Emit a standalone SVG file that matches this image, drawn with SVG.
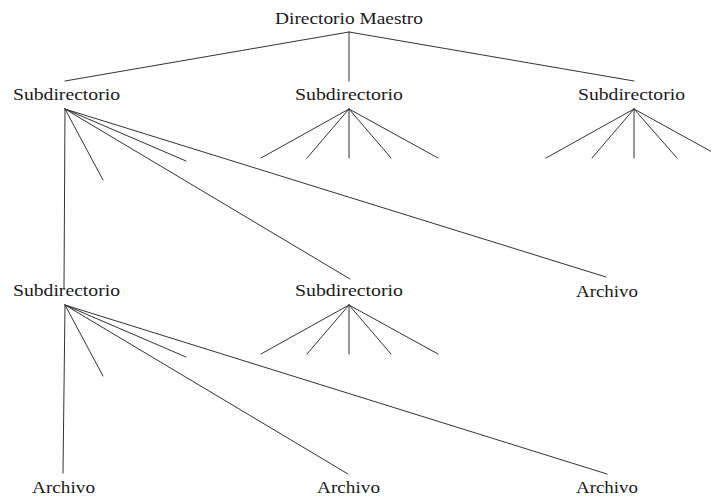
<svg xmlns="http://www.w3.org/2000/svg" width="711" height="498" viewBox="0 0 711 498">
  <style>
    .lbl { font-family: "Liberation Serif", "Times New Roman", serif; font-size: 17px; fill: #1a1a1a; }
    .edge { stroke: #333333; stroke-width: 1; fill: none; stroke-linecap: round; }
  </style>
  <rect width="711" height="498" fill="#ffffff"/>

  <g id="connectors">
    <!-- root to first-level subdirectories -->
    <path class="edge" d="M349 32 L65 81 M349 32 L349 81 M349 32 L634 81"/>
    <!-- left first-level subdirectory -->
    <path class="edge" d="M65 109 L64 288 M65 109 L103 180 M65 109 L186 161 M65 109 L350 279 M65 109 L606 277"/>
    <!-- middle first-level subdirectory fan -->
    <path class="edge" d="M349 109 L261 158 M349 109 L307 158 M349 109 L349 158 M349 109 L391 158 M349 109 L438 158"/>
    <!-- right first-level subdirectory fan -->
    <path class="edge" d="M634 109 L546 158 M634 109 L592 158 M634 109 L634 158 M634 109 L677 158 M634 109 L723 158"/>
    <!-- left second-level subdirectory -->
    <path class="edge" d="M65 305 L63 473 M65 305 L103 376 M65 305 L186 357 M65 305 L348 474 M65 305 L607 474"/>
    <!-- middle second-level subdirectory fan -->
    <path class="edge" d="M349 305 L261 354 M349 305 L307 354 M349 305 L349 354 M349 305 L391 354 M349 305 L438 354"/>
  </g>

  <g id="root">
    <text class="lbl" x="275" y="24" textLength="148" lengthAdjust="spacingAndGlyphs">Directorio Maestro</text>
  </g>
  <g id="sub-l1-left">
    <text class="lbl" x="13" y="100" textLength="107" lengthAdjust="spacingAndGlyphs">Subdirectorio</text>
  </g>
  <g id="sub-l1-mid">
    <text class="lbl" x="295" y="100" textLength="108" lengthAdjust="spacingAndGlyphs">Subdirectorio</text>
  </g>
  <g id="sub-l1-right">
    <text class="lbl" x="578" y="100" textLength="107" lengthAdjust="spacingAndGlyphs">Subdirectorio</text>
  </g>
  <g id="sub-l2-left">
    <text class="lbl" x="13" y="296" textLength="107" lengthAdjust="spacingAndGlyphs">Subdirectorio</text>
  </g>
  <g id="sub-l2-mid">
    <text class="lbl" x="295" y="296" textLength="108" lengthAdjust="spacingAndGlyphs">Subdirectorio</text>
  </g>
  <g id="file-l2-right">
    <text class="lbl" x="576" y="297" textLength="62" lengthAdjust="spacingAndGlyphs">Archivo</text>
  </g>
  <g id="file-l3-left">
    <text class="lbl" x="32" y="493" textLength="63" lengthAdjust="spacingAndGlyphs">Archivo</text>
  </g>
  <g id="file-l3-mid">
    <text class="lbl" x="317" y="493" textLength="63" lengthAdjust="spacingAndGlyphs">Archivo</text>
  </g>
  <g id="file-l3-right">
    <text class="lbl" x="576" y="493" textLength="62" lengthAdjust="spacingAndGlyphs">Archivo</text>
  </g>
</svg>
